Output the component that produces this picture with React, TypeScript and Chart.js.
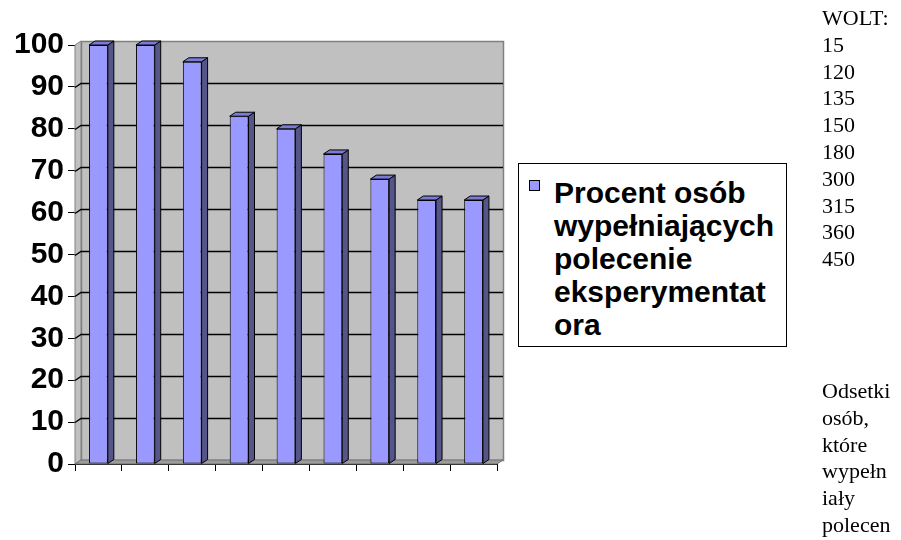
import React, { useEffect, useRef } from "react";
import { Chart, registerables } from "chart.js";

Chart.register(...registerables);

const CATEGORIES = ["15", "120", "135", "150", "180", "300", "315", "360", "450"];
const VALUES = [100, 100, 96, 83, 80, 74, 68, 63, 63];
const SERIES_LABEL = "Procent osób wypełniających polecenie eksperymentatora";
const LEGEND_LINES = ["Procent osób", "wypełniających", "polecenie", "eksperymentat", "ora"];
const AXIS_TITLE = "WOLT:";
const NOTE_LINES = ["Odsetki", "osób,", "które", "wypełn", "iały", "polecen"];
const Y_MIN = 0;
const Y_MAX = 100;
const Y_STEP = 10;

const FRONT = "#9999FF";
const SIDE = "#55558A";
const TOP = "#7B7BD6";
const WALL = "#C0C0C0";
const FLOOR = "#9C9C9C";
const WALL_EDGE = "#808080";
const SANS = '"Liberation Sans", Arial, sans-serif';
const SERIF = '"Liberation Serif", "Times New Roman", serif';

const WDX = 6;
const WDY = -4;
const BDX = 6;
const BDY = -4;

const wallsPlugin = {
  id: "walls3d",
  beforeDatasetsDraw(chart: any) {
    const { ctx, chartArea } = chart;
    const { left, right, top, bottom } = chartArea;
    const y = chart.scales.y;
    ctx.save();
    // back wall
    ctx.fillStyle = WALL;
    ctx.fillRect(left + WDX, top + WDY, right - left, bottom - top);
    ctx.strokeStyle = WALL_EDGE;
    ctx.lineWidth = 1.5;
    ctx.strokeRect(left + WDX + 0.5, top + WDY + 0.5, right - left, bottom - top);
    // left wall
    ctx.beginPath();
    ctx.moveTo(left, top);
    ctx.lineTo(left + WDX, top + WDY);
    ctx.lineTo(left + WDX, bottom + WDY);
    ctx.lineTo(left, bottom);
    ctx.closePath();
    ctx.fillStyle = WALL;
    ctx.fill();
    ctx.strokeStyle = WALL_EDGE;
    ctx.lineWidth = 1;
    ctx.stroke();
    // floor
    ctx.beginPath();
    ctx.moveTo(left, bottom);
    ctx.lineTo(left + WDX, bottom + WDY);
    ctx.lineTo(right + WDX, bottom + WDY);
    ctx.lineTo(right, bottom);
    ctx.closePath();
    ctx.fillStyle = FLOOR;
    ctx.fill();
    ctx.strokeStyle = "#707070";
    ctx.stroke();
    // gridlines
    ctx.strokeStyle = "#000";
    ctx.lineWidth = 1.5;
    for (let v = Y_MIN + Y_STEP; v < Y_MAX; v += Y_STEP) {
      const py = Math.round(y.getPixelForValue(v)) + 0.5;
      ctx.beginPath();
      ctx.moveTo(left, py);
      ctx.lineTo(left + WDX, py + WDY);
      ctx.lineTo(right + WDX, py + WDY);
      ctx.stroke();
    }
    ctx.restore();
  },
  afterDatasetsDraw(chart: any) {
    const { ctx } = chart;
    const meta = chart.getDatasetMeta(0);
    ctx.save();
    ctx.lineWidth = 1;
    ctx.strokeStyle = "#000";
    meta.data.forEach((bar: any) => {
      const p = bar.getProps(["x", "y", "base", "width"], true);
      const xL = p.x - p.width / 2;
      const xR = p.x + p.width / 2;
      const yT = p.y;
      const yB = p.base;
      // side
      ctx.beginPath();
      ctx.moveTo(xR, yT);
      ctx.lineTo(xR + BDX, yT + BDY);
      ctx.lineTo(xR + BDX, yB + BDY);
      ctx.lineTo(xR, yB);
      ctx.closePath();
      ctx.fillStyle = SIDE;
      ctx.fill();
      ctx.stroke();
      // top
      ctx.beginPath();
      ctx.moveTo(xL, yT);
      ctx.lineTo(xL + BDX, yT + BDY);
      ctx.lineTo(xR + BDX, yT + BDY);
      ctx.lineTo(xR, yT);
      ctx.closePath();
      ctx.fillStyle = TOP;
      ctx.fill();
      ctx.stroke();
    });
    ctx.restore();
  },
};

export default function App() {
  const ref = useRef<HTMLCanvasElement | null>(null);

  useEffect(() => {
    if (!ref.current) return;
    const chart = new Chart(ref.current, {
      type: "bar",
      data: {
        labels: CATEGORIES,
        datasets: [
          {
            label: SERIES_LABEL,
            data: VALUES,
            backgroundColor: FRONT,
            borderColor: "#000",
            borderWidth: 1,
            borderSkipped: false,
            barPercentage: 0.4,
            categoryPercentage: 1,
          },
        ],
      },
      options: {
        animation: false,
        responsive: false,
        maintainAspectRatio: false,
        layout: { padding: { left: 0, top: 45, right: 404, bottom: 0 } },
        plugins: { legend: { display: false }, tooltip: { enabled: false } },
        scales: {
          x: {
            z: 1,
            ticks: { display: false },
            grid: {
              display: true,
              drawOnChartArea: false,
              drawTicks: true,
              tickLength: 7,
              color: "#000",
              offset: true,
            },
            border: { display: true, color: "#000", width: 1 },
            afterFit: (s: any) => {
              s.height = 76;
            },
          },
          y: {
            z: 1,
            min: Y_MIN,
            max: Y_MAX,
            ticks: {
              stepSize: Y_STEP,
              color: "#000",
              padding: 4,
              font: { family: SANS, size: 30, weight: "bold" },
            },
            grid: {
              drawOnChartArea: false,
              drawTicks: true,
              tickLength: 7,
              color: "#000",
            },
            border: { display: true, color: "#000", width: 1 },
            afterFit: (s: any) => {
              s.width = 75;
            },
          },
        },
      } as any,
      plugins: [wallsPlugin],
    });
    return () => chart.destroy();
  }, []);

  return (
    <div>
      <canvas
        ref={ref}
        width={901}
        height={540}
        style={{ position: "fixed", left: 0, top: 0, width: 901, height: 540 }}
      />
      <div
        style={{
          position: "fixed",
          left: 518,
          top: 163,
          width: 269,
          height: 184,
          boxSizing: "border-box",
          border: "1px solid #000",
          background: "#fff",
        }}
      >
        <div
          style={{
            position: "absolute",
            left: 10,
            top: 16,
            width: 11,
            height: 11,
            boxSizing: "border-box",
            border: "1px solid #000",
            background: FRONT,
          }}
        />
        <div
          style={{
            position: "absolute",
            left: 35,
            top: 12,
            fontFamily: SANS,
            fontWeight: "bold",
            fontSize: 30,
            lineHeight: "33px",
            whiteSpace: "pre",
            color: "#000",
          }}
        >
          {LEGEND_LINES.join("\n")}
        </div>
      </div>
      <div
        style={{
          position: "fixed",
          left: 822,
          top: 5,
          fontFamily: SERIF,
          fontSize: 22,
          lineHeight: "26.8px",
          whiteSpace: "pre",
          color: "#000",
        }}
      >
        {[AXIS_TITLE, ...CATEGORIES].join("\n")}
      </div>
      <div
        style={{
          position: "fixed",
          left: 822,
          top: 378,
          fontFamily: SERIF,
          fontSize: 22,
          lineHeight: "26.8px",
          whiteSpace: "pre",
          color: "#000",
        }}
      >
        {NOTE_LINES.join("\n")}
      </div>
    </div>
  );
}
